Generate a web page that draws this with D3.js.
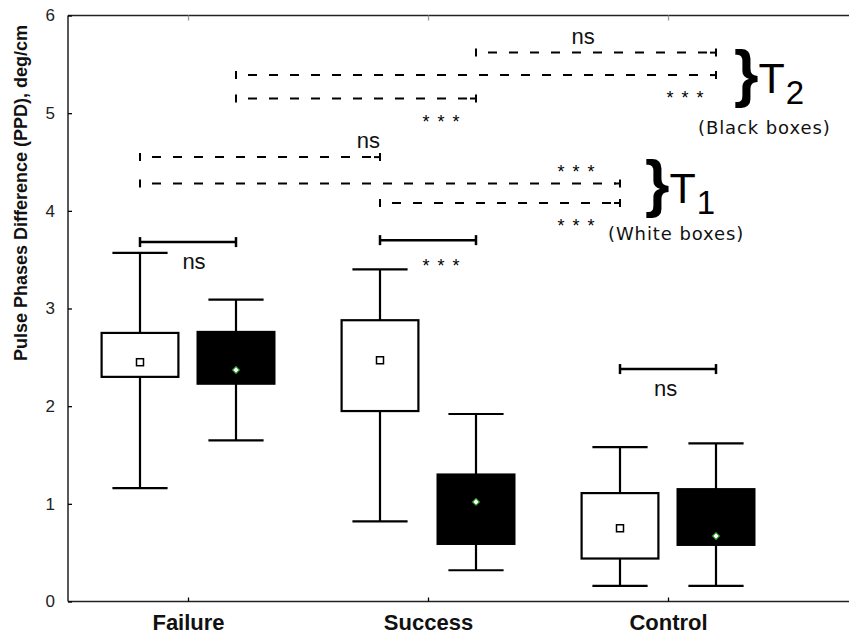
<!DOCTYPE html>
<html>
<head>
<meta charset="utf-8">
<script src="https://cdn.jsdelivr.net/npm/d3@7.9.0/dist/d3.min.js"></script>
<style>
  body { margin: 0; background: #fff; }
  svg { display: block; }
</style>
</head>
<body>
<div id="chart"></div>
<script>
// categories on the x axis
const categories = ['Failure', 'Success', 'Control'];
const yTicks = [0, 1, 2, 3, 4, 5, 6];

// T1 = white boxes
const whiteLow  = [1.16, 0.82, 0.16];
const whiteQ1   = [2.30, 1.95, 0.44];
const whiteQ3   = [2.75, 2.88, 1.11];
const whiteHigh = [3.57, 3.40, 1.58];
const whiteMean = [2.45, 2.47, 0.75];

// T2 = black boxes
const blackLow  = [1.65, 0.32, 0.16];
const blackQ1   = [2.23, 0.59, 0.58];
const blackQ3   = [2.76, 1.30, 1.15];
const blackHigh = [3.09, 1.92, 1.62];
const blackMean = [2.37, 1.02, 0.67];

// white vs black inside each group
const pairLevel = [3.68, 3.70, 2.38];
const pairLabel = ['ns', '***', 'ns'];
const pairLabelX = [1.025, 2.054, 2.99];

// between groups: [series, from category, to category, level, label, label x, side]
const groupTests = [
  ['black', 1, 2, 5.15, '***', 2.054, 'below'],
  ['black', 1, 3, 5.39, '***', 3.071, 'below'],
  ['black', 2, 3, 5.62, 'ns', 2.646, 'above'],
  ['white', 1, 2, 4.55, 'ns', 1.752, 'above'],
  ['white', 1, 3, 4.28, '***', 2.617, 'above'],
  ['white', 2, 3, 4.08, '***', 2.617, 'below'],
];

const width = 849;
const height = 636;
const plot = { left: 68, top: 15.5, bottom: 601.5 };

const svg = d3.select('#chart')
  .append('svg')
  .attr('width', width)
  .attr('height', height)
  .attr('font-family', '"Liberation Sans", Arial, sans-serif');

const x = d3.scaleLinear().domain([0.5, 3.5]).range([plot.left, 788]);
const y = d3.scaleLinear().domain([0, 6]).range([plot.bottom, plot.top]);

const offset = { white: -0.2, black: 0.2 };
const boxW = 0.32;
const capW = 0.23;

// frame
const frame = svg.append('g').attr('stroke', '#222').attr('stroke-width', 1.5);
frame.append('line').attr('x1', plot.left).attr('x2', plot.left)
  .attr('y1', plot.top).attr('y2', plot.bottom);
frame.append('line').attr('x1', plot.left).attr('x2', width + 5)
  .attr('y1', plot.bottom).attr('y2', plot.bottom);
frame.append('line').attr('x1', plot.left).attr('x2', width + 5)
  .attr('y1', plot.top).attr('y2', plot.top);

// axes
const yAxis = svg.append('g')
  .attr('transform', `translate(${plot.left},0)`)
  .call(d3.axisLeft(y).tickValues(yTicks).tickFormat(d3.format('d'))
    .tickSize(-4).tickSizeOuter(0).tickPadding(13));
yAxis.select('.domain').remove();
yAxis.selectAll('text').attr('font-size', 17).attr('fill', '#222');

const xAxis = svg.append('g')
  .attr('transform', `translate(0,${plot.bottom})`)
  .call(d3.axisBottom(x).tickValues([1, 2, 3]).tickFormat((d) => categories[d - 1])
    .tickSize(-4).tickSizeOuter(0).tickPadding(13));
xAxis.select('.domain').remove();
xAxis.selectAll('text').attr('font-size', 22).attr('font-weight', 'bold').attr('fill', '#111');

const topAxis = svg.append('g')
  .attr('transform', `translate(0,${plot.top})`)
  .call(d3.axisTop(x).tickValues([1, 2, 3]).tickFormat('').tickSize(-5).tickSizeOuter(0));
topAxis.select('.domain').remove();
topAxis.selectAll('line').attr('stroke', '#999');

svg.selectAll('.tick line').attr('stroke-width', 1.3);

// y label
svg.append('text')
  .attr('transform', 'rotate(-90)')
  .attr('x', -193)
  .attr('y', 27)
  .attr('text-anchor', 'middle')
  .attr('font-size', 18)
  .attr('font-weight', 'bold')
  .attr('fill', '#111')
  .text('Pulse Phases Difference (PPD), deg/cm');

// box data
const boxes = [];
categories.forEach((c, i) => {
  boxes.push({ series: 'white', cat: i + 1, low: whiteLow[i], q1: whiteQ1[i], q3: whiteQ3[i], high: whiteHigh[i], mean: whiteMean[i] });
  boxes.push({ series: 'black', cat: i + 1, low: blackLow[i], q1: blackQ1[i], q3: blackQ3[i], high: blackHigh[i], mean: blackMean[i] });
});

const bx = (d) => d.cat + offset[d.series];

const g = svg.append('g').attr('stroke', '#000').attr('stroke-width', 2.2);

const box = g.selectAll('g.box')
  .data(boxes)
  .join('g')
  .attr('class', 'box');

// whiskers
box.append('line')
  .attr('x1', (d) => x(bx(d))).attr('x2', (d) => x(bx(d)))
  .attr('y1', (d) => y(d.high)).attr('y2', (d) => y(d.q3));
box.append('line')
  .attr('x1', (d) => x(bx(d))).attr('x2', (d) => x(bx(d)))
  .attr('y1', (d) => y(d.q1)).attr('y2', (d) => y(d.low));
box.append('line')
  .attr('x1', (d) => x(bx(d) - capW / 2)).attr('x2', (d) => x(bx(d) + capW / 2))
  .attr('y1', (d) => y(d.high)).attr('y2', (d) => y(d.high));
box.append('line')
  .attr('x1', (d) => x(bx(d) - capW / 2)).attr('x2', (d) => x(bx(d) + capW / 2))
  .attr('y1', (d) => y(d.low)).attr('y2', (d) => y(d.low));

box.append('rect')
  .attr('x', (d) => x(bx(d) - boxW / 2))
  .attr('width', (d) => x(bx(d) + boxW / 2) - x(bx(d) - boxW / 2))
  .attr('y', (d) => y(d.q3))
  .attr('height', (d) => y(d.q1) - y(d.q3))
  .attr('fill', (d) => (d.series === 'white' ? '#fff' : '#000'));

// means
box.filter((d) => d.series === 'white')
  .append('rect')
  .attr('x', (d) => x(bx(d)) - 3.5)
  .attr('y', (d) => y(d.mean) - 3.5)
  .attr('width', 7)
  .attr('height', 7)
  .attr('fill', '#fff')
  .attr('stroke-width', 1.5);

box.filter((d) => d.series === 'black')
  .append('path')
  .attr('d', d3.symbol(d3.symbolSquare, 24)())
  .attr('transform', (d) => `translate(${x(bx(d))},${y(d.mean)}) rotate(45)`)
  .attr('fill', '#fff')
  .attr('stroke', '#1a9a1a')
  .attr('stroke-width', 1);

// label helpers
function stars(cx, cy) {
  [-15, 0, 15].forEach((dx) => {
    svg.append('text')
      .attr('x', cx + dx)
      .attr('y', cy + 10)
      .attr('text-anchor', 'middle')
      .attr('font-size', 18)
      .attr('fill', '#000')
      .text('*');
  });
}

function sigLabel(label, lx, level, side, gapAbove, gapBelow) {
  const ly = y(level);
  if (label === 'ns') {
    svg.append('text')
      .attr('x', x(lx))
      .attr('y', side === 'above' ? ly - gapAbove : ly + gapBelow)
      .attr('text-anchor', 'middle')
      .attr('font-size', 22)
      .attr('fill', '#111')
      .text('ns');
  } else {
    stars(x(lx), side === 'above' ? ly - 15 : ly + 19);
  }
}

// solid brackets
categories.forEach((c, i) => {
  const x1 = x(i + 1 + offset.white);
  const x2 = x(i + 1 + offset.black);
  const ly = y(pairLevel[i]);
  const b = svg.append('g').attr('stroke', '#000').attr('stroke-width', 2.5);
  b.append('line').attr('x1', x1).attr('x2', x2).attr('y1', ly).attr('y2', ly);
  b.append('line').attr('x1', x1).attr('x2', x1).attr('y1', ly - 5).attr('y2', ly + 5);
  b.append('line').attr('x1', x2).attr('x2', x2).attr('y1', ly - 5).attr('y2', ly + 5);
  if (pairLabel[i] === 'ns') {
    sigLabel('ns', pairLabelX[i], pairLevel[i], 'below', 0, 27);
  } else {
    stars(x(pairLabelX[i]), ly + 22);
  }
});

// dashed brackets
groupTests.forEach(([series, from, to, level, label, lx, side]) => {
  const x1 = x(from + offset[series]);
  const x2 = x(to + offset[series]);
  const ly = y(level);
  const b = svg.append('g').attr('stroke', '#000').attr('stroke-width', 2);
  b.append('line').attr('x1', x1 + 4).attr('x2', x2 - 4).attr('y1', ly).attr('y2', ly)
    .attr('stroke-dasharray', '9,12').attr('stroke-dashoffset', -8);
  b.append('line').attr('x1', x1).attr('x2', x1).attr('y1', ly - 4).attr('y2', ly + 4);
  b.append('line').attr('x1', x2).attr('x2', x2).attr('y1', ly - 4).attr('y2', ly + 4);
  b.append('line').attr('x1', x2 - 6).attr('x2', x2).attr('y1', ly).attr('y2', ly);
  sigLabel(label, lx, level, side, 9, 0);
});

// T labels: brace, T and subscript in one text
function tLabel(bx0, base, sub, note, noteX, noteBase) {
  const t = svg.append('text').attr('x', bx0 - 3).attr('y', base).attr('fill', '#000');
  t.append('tspan').attr('font-size', 63).attr('font-weight', 'bold').attr('dy', 2).text('}');
  t.append('tspan').attr('font-size', 43).attr('dy', -2).text('T');
  t.append('tspan').attr('font-size', 33).attr('dx', 1).attr('dy', 11).text(sub);
  svg.append('text').attr('x', noteX).attr('y', noteBase)
    .attr('font-family', '"DejaVu Sans", sans-serif')
    .attr('font-size', 18).attr('letter-spacing', 0.9).attr('fill', '#111').text(note);
}

tLabel(737, 93, '2', '(Black boxes)', 698, 134);
tLabel(648, 203, '1', '(White boxes)', 608, 240);
</script>
</body>
</html>
